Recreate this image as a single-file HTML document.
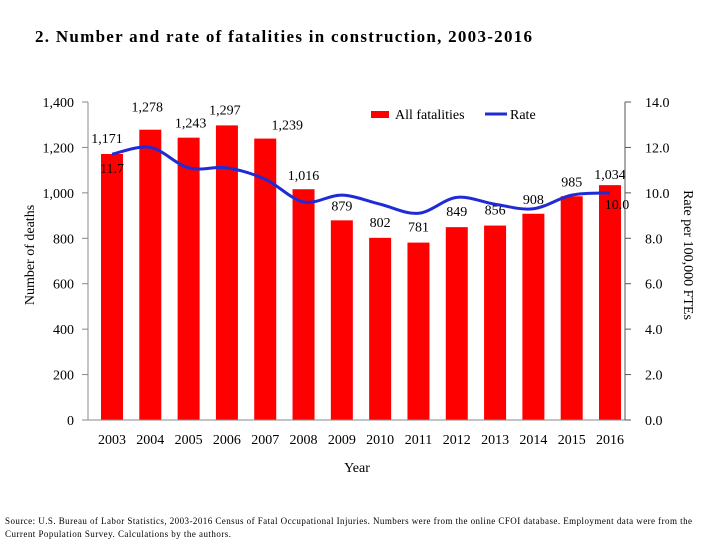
<!DOCTYPE html>
<html><head><meta charset="utf-8"><style>
body{margin:0;background:#fff;}
svg text{font-family:"Liberation Serif",serif;}
</style></head><body>
<svg id="c" width="720" height="540">
<text x="35" y="42" font-size="17" font-weight="bold" textLength="497" lengthAdjust="spacing">2. Number and rate of fatalities in construction, 2003-2016</text>
<g id="plot"></g>
<text transform="translate(34,255) rotate(-90)" text-anchor="middle" font-size="14">Number of deaths</text>
<text transform="translate(684,255) rotate(90)" text-anchor="middle" font-size="14">Rate per 100,000 FTEs</text>
<text x="357" y="472" text-anchor="middle" font-size="14">Year</text>
<rect x="371" y="111" width="18" height="7" fill="#ff0000"/>
<text x="395" y="119" font-size="14">All fatalities</text>
<line x1="485" y1="114" x2="507" y2="114" stroke="#1f2bd6" stroke-width="3"/>
<text x="510" y="119" font-size="14">Rate</text>
<text x="5" y="524" font-size="9" textLength="687" lengthAdjust="spacing">Source: U.S. Bureau of Labor Statistics, 2003-2016 Census of Fatal Occupational Injuries. Numbers were from the online CFOI database. Employment data were from the</text>
<text x="5" y="537" font-size="9" textLength="226" lengthAdjust="spacing">Current Population Survey. Calculations by the authors.</text>
</svg>
<script>
const years=[2003,2004,2005,2006,2007,2008,2009,2010,2011,2012,2013,2014,2015,2016];
const deaths=[1171,1278,1243,1297,1239,1016,879,802,781,849,856,908,985,1034];
const rates=[11.7,12.0,11.1,11.1,10.6,9.6,9.9,9.5,9.1,9.8,9.5,9.3,9.9,10.0];
const leftTicks=[0,200,400,600,800,1000,1200,1400];
const rightTicks=[0,2,4,6,8,10,12,14];
const labelDx=[-5,-3,2,-2,22,0,0,0,0,0,0,0,0,0];
const labelDy=[-11,-18,-10,-11,-9,-9,-10,-11,-11,-11,-11,-10,-10,-6];
const NS="http://www.w3.org/2000/svg";
const g=document.getElementById('plot');
const x0=88,x1=625,yTop=102,yBot=420;
const xs=i=>112+i*(610-112)/(years.length-1);
const yL=v=>yBot-v/1400*(yBot-yTop);
const yR=v=>yBot-v/14*(yBot-yTop);
function mk(t,a){const e=document.createElementNS(NS,t);for(const k in a)e.setAttribute(k,a[k]);g.appendChild(e);return e;}
leftTicks.forEach(v=>{
 const t=mk('text',{x:74,y:yL(v)+5,'text-anchor':'end','font-size':14});t.textContent=v.toLocaleString('en-US');
 
 
 const l=mk('line',{x1:82,x2:x0,y1:yL(v),y2:yL(v),stroke:'#888'});
 
 
});
rightTicks.forEach(v=>{
 const t=mk('text',{x:645,y:yR(v)+5,'font-size':14});t.textContent=v.toFixed(1);
 
 
 const l=mk('line',{x1:x1,x2:x1+6,y1:yR(v),y2:yR(v),stroke:'#555'});
 
 
});
years.forEach((yr,i)=>{
 const b=mk('rect',{x:xs(i)-11,y:yL(deaths[i]),width:22,height:yBot-yL(deaths[i]),fill:'#ff0000'});
 
 
 const t=mk('text',{x:xs(i),y:yBot+24,'text-anchor':'middle','font-size':14});t.textContent=yr;
 
 
 const lb=mk('text',{x:xs(i)+labelDx[i],y:yL(deaths[i])+labelDy[i],'text-anchor':'middle','font-size':14});lb.textContent=deaths[i].toLocaleString('en-US');
 
 
});
const ax=mk('line',{x1:x0,x2:x0,y1:yTop,y2:yBot,stroke:'#888'});


const bx=mk('line',{x1:x0,x2:x1,y1:yBot,y2:yBot,stroke:'#888'});


const rx=mk('line',{x1:x1,x2:x1,y1:yTop,y2:yBot,stroke:'#555'});


const pts=rates.map((r,i)=>[xs(i),yR(r)]);
let d='M'+pts[0][0]+','+pts[0][1];
for(let i=0;i<pts.length-1;i++){
 const p0=pts[Math.max(i-1,0)],p1=pts[i],p2=pts[i+1],p3=pts[Math.min(i+2,pts.length-1)];
 const c1=[p1[0]+(p2[0]-p0[0])/6,p1[1]+(p2[1]-p0[1])/6],c2=[p2[0]-(p3[0]-p1[0])/6,p2[1]-(p3[1]-p1[1])/6];
 d+=` C${c1[0]},${c1[1]} ${c2[0]},${c2[1]} ${p2[0]},${p2[1]}`;
}
const ln=mk('path',{d:d,fill:'none',stroke:'#1f2bd6','stroke-width':3});


const r0=mk('text',{x:xs(0),y:yR(rates[0])+19,'text-anchor':'middle','font-size':14});r0.textContent=rates[0].toFixed(1);


const n=rates.length-1;
const r1=mk('text',{x:xs(n)+7,y:yR(rates[n])+16,'text-anchor':'middle','font-size':14});r1.textContent=rates[n].toFixed(1);


</script>
</body></html>
